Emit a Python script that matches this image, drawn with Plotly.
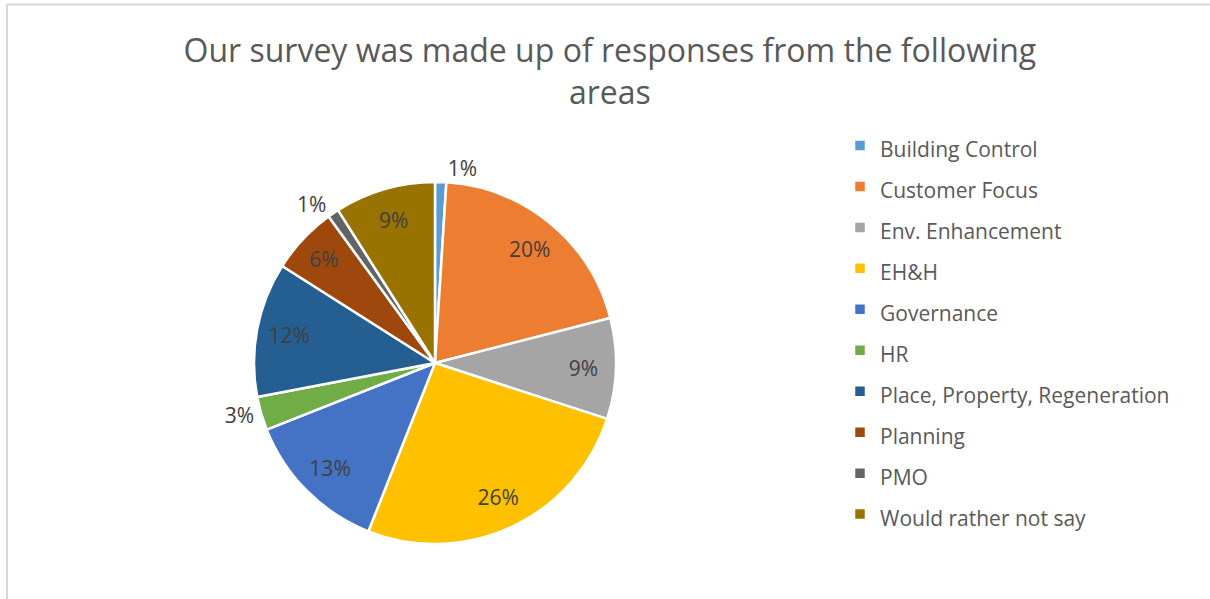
import plotly.graph_objects as go

categories = ["Building Control", "Customer Focus", "Env. Enhancement", "EH&H", "Governance",
              "HR", "Place, Property, Regeneration", "Planning", "PMO", "Would rather not say"]
values = [1, 20, 9, 26, 13, 3, 12, 6, 1, 9]
colors = ["#5B9BD5", "#ED7D31", "#A5A5A5", "#FFC000", "#4472C4",
          "#70AD47", "#255E91", "#9E480E", "#636363", "#997300"]
text_pos = ["outside", "inside", "inside", "inside", "inside",
            "outside", "inside", "inside", "outside", "inside"]
title_text = "Our survey was made up of responses from the following<br>areas"

W, H = 1210, 599
FONT = "Open Sans"
cx, cy, R = 435, 363, 181
domain = dict(x=[(cx - R) / W, (cx + R) / W], y=[(H - cy - R) / H, (H - cy + R) / H])

legend_labels = ['<span style="font-size:21px">%s</span>' % c for c in categories]

fig = go.Figure()
# coloured slices with white separators (and legend)
fig.add_trace(go.Pie(
    labels=legend_labels, values=values, sort=False, direction="clockwise", rotation=0,
    marker=dict(colors=colors, line=dict(color="white", width=2.5)),
    textinfo="none", domain=domain, hoverinfo="skip",
))
# transparent ring on top that carries the percentage labels further out
fig.add_trace(go.Pie(
    labels=legend_labels, values=values, sort=False, direction="clockwise", rotation=0,
    hole=0.64, showlegend=False,
    marker=dict(colors=["rgba(0,0,0,0)"] * len(values), line=dict(width=0)),
    texttemplate="%{percent:.0%}", textposition=text_pos,
    insidetextorientation="horizontal",
    textfont=dict(family=FONT, size=21, color="#404040"),
    outsidetextfont=dict(family=FONT, size=21, color="#404040"),
    domain=domain, hoverinfo="skip",
))

fig.update_layout(
    width=W, height=H,
    margin=dict(l=0, r=0, t=0, b=0),
    paper_bgcolor="white",
    font=dict(family=FONT, color="#595959"),
    uniformtext=dict(minsize=21, mode="show"),
    title=dict(text=title_text, x=0.504, xanchor="center", y=1 - 62 / H, yanchor="top",
               yref="container", font=dict(family=FONT, size=32, color="#595959")),
    legend=dict(x=840 / W, xanchor="left", y=1 - 120 / H, yanchor="top",
                font=dict(family=FONT, size=29.2, color="#595959"),
                itemwidth=30, bgcolor="rgba(0,0,0,0)", traceorder="normal"),
    shapes=[dict(type="rect", xref="paper", yref="paper",
                 x0=7 / W, x1=1.02, y0=-0.02, y1=1 - 4.5 / H,
                 line=dict(color="#D9D9D9", width=2), fillcolor="rgba(0,0,0,0)", layer="below")],
)

fig.write_html("out.html", config={"displayModeBar": False},
               post_script="document.body.style.margin='0';document.body.style.overflow='hidden';")
